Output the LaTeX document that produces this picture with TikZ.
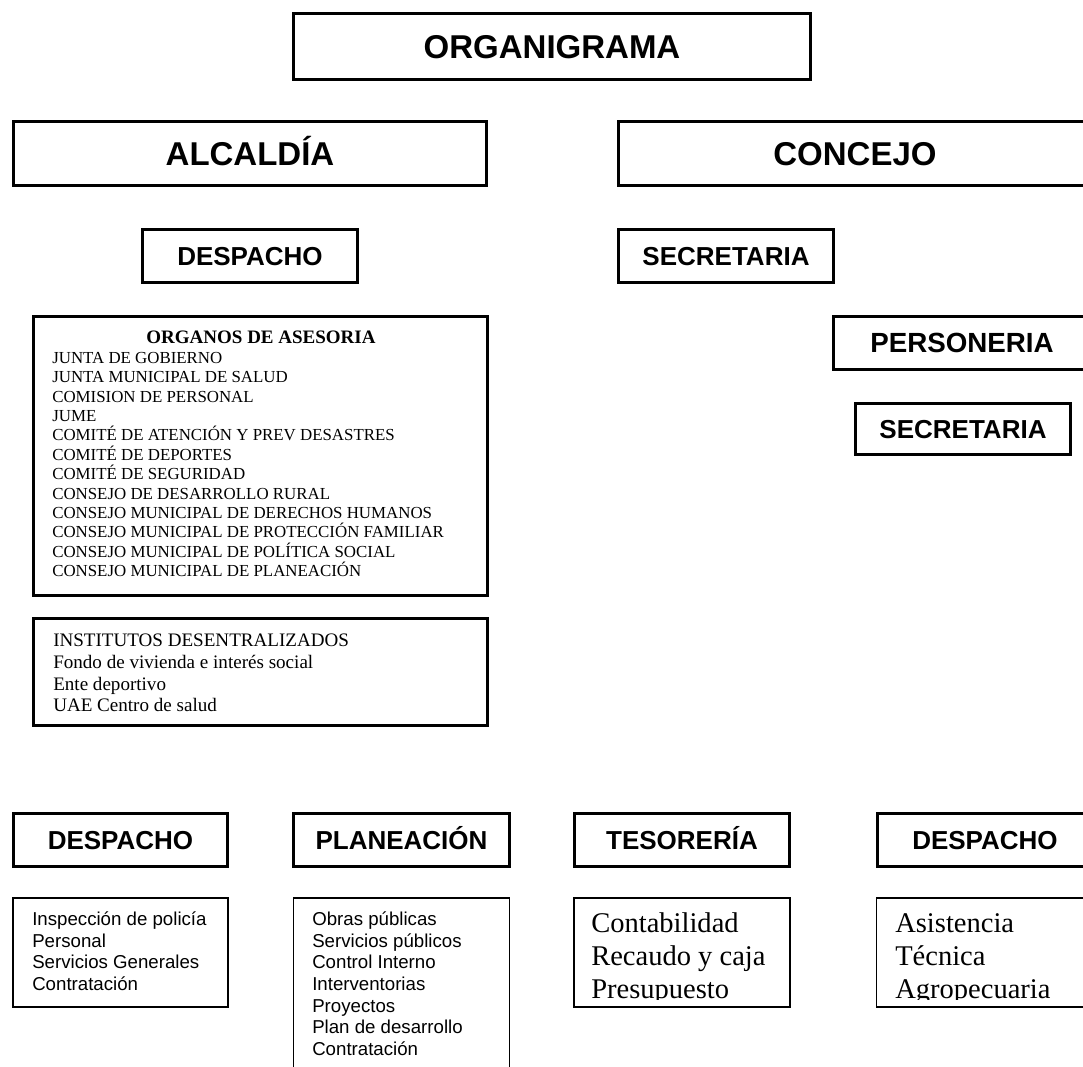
\documentclass[tikz,border=0pt]{standalone}
\usepackage{fontspec}
\setmainfont{Liberation Serif}
\setsansfont{Liberation Sans}

\begin{document}
\begin{tikzpicture}[x=0.75pt,y=0.75pt,yscale=-1,xscale=1,
		bigbox/.style={draw, line width=2.85pt, inner sep=0pt, font=\sffamily\bfseries\fontsize{24.75}{29}\selectfont, text height=17.7pt, text depth=0pt},
		headbox/.style={draw, line width=2.4pt, inner sep=0pt, font=\sffamily\bfseries\fontsize{19.5}{23}\selectfont, text height=14pt, text depth=0pt},
		framebox/.style={draw, line width=2.4pt, inner sep=0pt},
		listbox/.style={draw, line width=0.9pt, inner sep=0pt},
		itemtext/.style={anchor=north west, inner sep=0pt, align=left}]
			\useasboundingbox (0,0) rectangle (1083,1067);
			
			%Shape: Rectangle [id:organigrama] 
			\node [bigbox, minimum width=387.75pt, minimum height=49.5pt] (organigrama) at (552,46.5) {ORGANIGRAMA};
			%Shape: Rectangle [id:alcaldia] 
			\node [bigbox, minimum width=354.75pt, minimum height=48pt] (alcaldia) at (250,153.5) {ALCALDÍA};
			%Shape: Rectangle [id:concejo] 
			\node [bigbox, minimum width=354.75pt, minimum height=48pt] (concejo) at (855,153.5) {CONCEJO};
			
			%Shape: Rectangle [id:despachoA] 
			\node [headbox, minimum width=161.25pt, minimum height=39.4pt] (despachoA) at (250,256) {DESPACHO};
			%Shape: Rectangle [id:secretariaA] 
			\node [headbox, minimum width=161.6pt, minimum height=39.4pt] (secretariaA) at (726,256) {SECRETARIA};
			%Shape: Rectangle [id:personeria] 
			\node [headbox, font=\sffamily\bfseries\fontsize{20.8}{24}\selectfont, text height=14.9pt, minimum width=192.75pt, minimum height=39.4pt] (personeria) at (962,343) {PERSONERIA};
			%Shape: Rectangle [id:secretariaB] 
			\node [headbox, minimum width=161.25pt, minimum height=38.25pt] (secretariaB) at (963,429) {SECRETARIA};
			
			%Shape: Rectangle [id:organos] 
			\node [framebox, minimum width=340.5pt, minimum height=209.25pt] (organos) at (260.5,456) {};
			%Shape: Rectangle [id:institutos] 
			\node [framebox, minimum width=340.5pt, minimum height=80.25pt] (institutos) at (260.5,672) {};
			
			%Shape: Rectangle [id:despachoB] 
			\node [headbox, minimum width=160.5pt, minimum height=39.75pt] (despachoB) at (120.5,840) {DESPACHO};
			%Shape: Rectangle [id:planeacion] 
			\node [headbox, minimum width=162pt, minimum height=39.75pt] (planeacion) at (401.5,840) {PLANEACIÓN};
			%Shape: Rectangle [id:tesoreria] 
			\node [headbox, minimum width=161.25pt, minimum height=39.75pt] (tesoreria) at (682,840) {TESORERÍA};
			%Shape: Rectangle [id:despachoC] 
			\node [headbox, minimum width=161.25pt, minimum height=39.75pt] (despachoC) at (985,840) {DESPACHO};
			
			%Shape: Rectangle [id:despachoList] 
			\node [listbox, minimum width=161.25pt, minimum height=81.75pt] (despachoList) at (120.5,952.5) {};
			%Shape: Rectangle [id:planeacionList] 
			\node [listbox, minimum width=162pt, minimum height=150pt] (planeacionList) at (401.5,998) {};
			%Shape: Rectangle [id:tesoreriaList] 
			\node [listbox, minimum width=162pt, minimum height=81.75pt] (tesoreriaList) at (682,952.5) {};
			%Shape: Rectangle [id:despachoCList] 
			\node [listbox, minimum width=162pt, minimum height=81.75pt] (despachoCList) at (984.6,952.5) {};
			
			% Text Node
			\node [anchor=base, inner sep=0pt, font=\bfseries\fontsize{14.25}{16}\selectfont] (organosTitle) at (261,343) {ORGANOS DE ASESORIA};
			% Text Node
			\node [itemtext, font=\fontsize{12.65}{14.55}\selectfont] (organosItems) at (52,349.4) {\strut JUNTA DE GOBIERNO\\ JUNTA MUNICIPAL DE SALUD\\ COMISION DE PERSONAL\\ JUME\\ COMITÉ DE ATENCIÓN Y PREV DESASTRES\\ COMITÉ DE DEPORTES\\ COMITÉ DE SEGURIDAD\\ CONSEJO DE DESARROLLO RURAL\\ CONSEJO MUNICIPAL DE DERECHOS HUMANOS\\ CONSEJO MUNICIPAL DE PROTECCIÓN FAMILIAR\\ CONSEJO MUNICIPAL DE POLÍTICA SOCIAL\\ CONSEJO MUNICIPAL DE PLANEACIÓN};
			% Text Node
			\node [itemtext, font=\fontsize{14.3}{16.4}\selectfont] (institutosItems) at (53,630.7) {\strut INSTITUTOS DESENTRALIZADOS\\ Fondo de vivienda e interés social\\ Ente deportivo\\ UAE Centro de salud};
			% Text Node
			\node [itemtext, font=\sffamily\fontsize{14}{16.3}\selectfont] (despachoItems) at (32,909.8) {\strut Inspección de policía\\ Personal\\ Servicios Generales\\ Contratación};
			% Text Node
			\node [itemtext, font=\sffamily\fontsize{14}{16.3}\selectfont] (planeacionItems) at (312,909.8) {\strut Obras públicas\\ Servicios públicos\\ Control Interno\\ Interventorias\\ Proyectos\\ Plan de desarrollo\\ Contratación};
			
			\begin{scope}
			\clip (560,890) rectangle (1083,999);
			% Text Node
			\node [itemtext, font=\fontsize{21.4}{24.75}\selectfont] (tesoreriaItems) at (591,908.9) {\strut Contabilidad\\ Recaudo y caja\\ Presupuesto};
			% Text Node
			\node [itemtext, font=\fontsize{21.4}{24.75}\selectfont] (despachoCItems) at (895,908.9) {\strut Asistencia\\ Técnica\\ Agropecuaria};
			\end{scope}
			
		\end{tikzpicture}
\end{document}
